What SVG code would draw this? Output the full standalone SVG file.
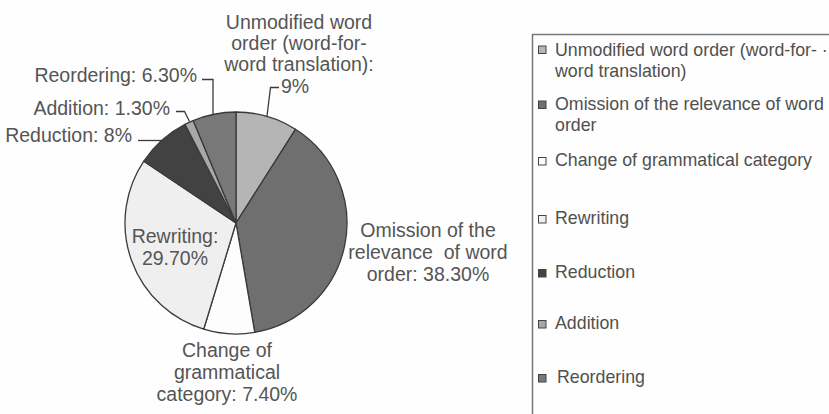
<svg xmlns="http://www.w3.org/2000/svg" width="829" height="414" viewBox="0 0 829 414">
<style>
text{font-family:"Liberation Sans",Arial,sans-serif;fill:#555}
.pl{font-size:19.5px}
.lg{font-size:17.8px;fill:#505050}
.m{text-anchor:middle}
.e{text-anchor:end}
.sl{stroke:#3a3a3a;stroke-width:1.3;stroke-linejoin:round}
.ld{fill:none;stroke:#3a3a3a;stroke-width:1.3}
.sw{stroke:#444;stroke-width:1}
</style>
<rect x="0" y="0" width="829" height="414" fill="#fefefe"/>
<g id="pie">
<g id="slice-unmodified"><path class="sl" fill="#b5b5b5" d="M236,223 L236,112 A111,111 0 0 1 295.47,129.28 Z"/></g>
<g id="slice-omission"><path class="sl" fill="#6f6f6f" d="M236,223 L295.47,129.28 A111,111 0 0 1 254.74,332.40 Z"/></g>
<g id="slice-change"><path class="sl" fill="#fdfdfd" d="M236,223 L254.74,332.40 A111,111 0 0 1 203.70,329.19 Z"/></g>
<g id="slice-rewriting"><path class="sl" fill="#efefef" d="M236,223 L203.70,329.19 A111,111 0 0 1 143.81,161.17 Z"/></g>
<g id="slice-reduction"><path class="sl" fill="#424242" d="M236,223 L143.81,161.17 A111,111 0 0 1 184.97,124.42 Z"/></g>
<g id="slice-addition"><path class="sl" fill="#a8a8a8" d="M236,223 L184.97,124.42 A111,111 0 0 1 193.20,120.58 Z"/></g>
<g id="slice-reordering"><path class="sl" fill="#787878" d="M236,223 L193.20,120.58 A111,111 0 0 1 236,112 Z"/></g>
</g>
<g id="connectors">
<polyline class="ld" points="267,116 270.5,87.5 279,87.5"/>
<polyline class="ld" points="213,114 213,79.5 202,79.5"/>
<polyline class="ld" points="189.5,121.5 184.5,111.5 176,111.5"/>
<polyline class="ld" points="161,140.5 138,140.5"/>
</g>
<g id="label-unmodified">
<text class="pl m" x="299" y="29">Unmodified word</text>
<text class="pl m" x="299" y="50">order (word-for-</text>
<text class="pl m" x="299" y="71">word translation):</text>
<text class="pl" x="281" y="93">9%</text>
</g>
<g id="label-omission">
<text class="pl m" x="428" y="237">Omission of the</text>
<text class="pl m" x="428" y="259" xml:space="preserve">relevance  of word</text>
<text class="pl m" x="428" y="281">order: 38.30%</text>
</g>
<g id="label-change">
<text class="pl m" x="227" y="357">Change of</text>
<text class="pl m" x="227" y="379">grammatical</text>
<text class="pl m" x="227" y="401">category: 7.40%</text>
</g>
<g id="label-rewriting">
<text class="pl m" x="175" y="243">Rewriting:</text>
<text class="pl m" x="175" y="265">29.70%</text>
</g>
<g id="label-reordering"><text class="pl e" x="197" y="82">Reordering: 6.30%</text></g>
<g id="label-addition"><text class="pl e" x="170" y="115">Addition: 1.30%</text></g>
<g id="label-reduction"><text class="pl e" x="132" y="142">Reduction: 8%</text></g>
<g id="legend">
<rect x="532.5" y="34.5" width="320" height="400" fill="#fefefe" stroke="#777" stroke-width="1.5"/>
<rect class="sw" x="538.5" y="46" width="7.5" height="7.5" fill="#b5b5b5"/>
<text class="lg" x="555" y="56">Unmodified word order (word-for- ·</text>
<text class="lg" x="555" y="77">word translation)</text>
<rect class="sw" x="538.5" y="101" width="7.5" height="7.5" fill="#6f6f6f"/>
<text class="lg" x="555" y="110">Omission of the relevance of word</text>
<text class="lg" x="555" y="131">order</text>
<rect class="sw" x="538.5" y="157.5" width="7.5" height="7.5" fill="#fdfdfd"/>
<text class="lg" x="555" y="166">Change of grammatical category</text>
<rect class="sw" x="538.5" y="215.5" width="7.5" height="7.5" fill="#efefef"/>
<text class="lg" x="555" y="224">Rewriting</text>
<rect class="sw" x="538.5" y="269.5" width="7.5" height="7.5" fill="#424242"/>
<text class="lg" x="555" y="278">Reduction</text>
<rect class="sw" x="538.5" y="320.5" width="7.5" height="7.5" fill="#a8a8a8"/>
<text class="lg" x="555" y="329">Addition</text>
<rect class="sw" x="538.5" y="374.5" width="7.5" height="7.5" fill="#787878"/>
<text class="lg" x="557" y="383">Reordering</text>
</g>
</svg>
